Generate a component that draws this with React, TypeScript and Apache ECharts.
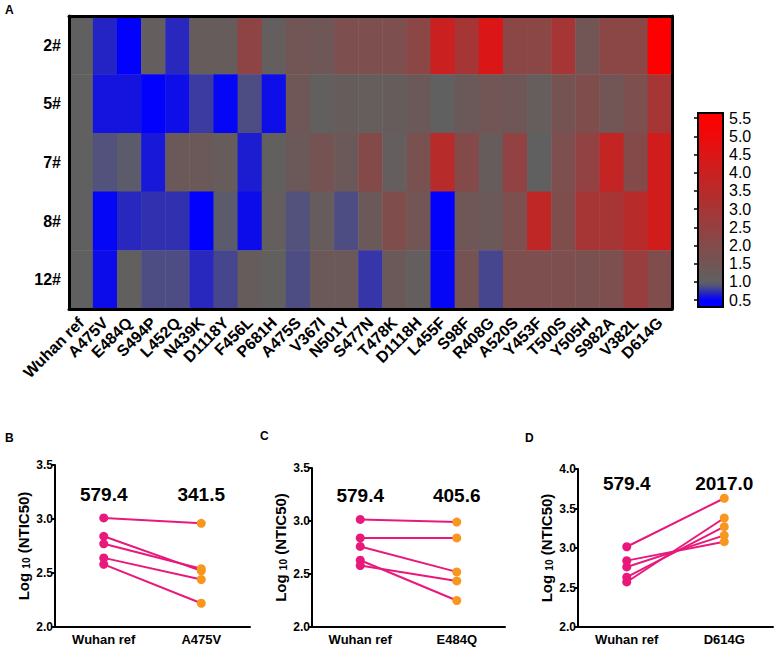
import React, { useEffect, useRef } from 'react';
import * as echarts from 'echarts';

// ---------- Heatmap data (fold change vs Wuhan ref) ----------
const mutations = ['Wuhan ref', 'A475V', 'E484Q', 'S494P', 'L452Q', 'N439K', 'D1118Y', 'F456L', 'P681H', 'A475S', 'V367I', 'N501Y', 'S477N', 'T478K', 'D1118H', 'L455F', 'S98F', 'R408G', 'A520S', 'Y453F', 'T500S', 'Y505H', 'S982A', 'V382L', 'D614G'];
const donors = ['2#', '5#', '7#', '8#', '12#'];
const donor2 = [1.0, 0.68, 0.5, 1.1, 0.7, 1.2, 1.2, 2.3, 1.1, 1.5, 1.4, 1.8, 1.8, 1.8, 2.2, 4.0, 3.0, 4.5, 2.2, 2.2, 3.0, 1.5, 2.2, 2.2, 5.5];
const donor5 = [1.0, 0.6, 0.6, 0.5, 0.57, 0.78, 0.53, 0.86, 0.57, 1.4, 1.05, 1.2, 1.15, 1.2, 1.3, 1.0, 1.3, 1.5, 1.4, 1.15, 1.6, 1.9, 1.5, 1.8, 3.0];
const donor7 = [1.0, 0.88, 0.95, 0.62, 1.3, 1.3, 1.2, 0.64, 1.05, 1.3, 1.6, 1.3, 2.0, 1.1, 1.7, 3.5, 2.0, 1.2, 2.4, 1.0, 1.8, 2.4, 3.8, 2.0, 4.2];
const donor8 = [1.0, 0.53, 0.7, 0.74, 0.74, 0.5, 0.95, 0.56, 1.1, 0.88, 1.2, 0.86, 1.3, 1.9, 1.5, 0.5, 1.4, 1.3, 1.8, 3.7, 1.9, 3.0, 3.0, 3.5, 4.2];
const donor12 = [1.0, 0.56, 1.05, 0.86, 0.86, 0.7, 0.83, 1.2, 1.05, 0.86, 1.3, 1.3, 0.76, 1.3, 1.1, 0.53, 1.6, 0.83, 1.8, 1.8, 1.8, 1.7, 1.8, 2.6, 1.9];
const heatRows = [donor2, donor5, donor7, donor8, donor12];
const colorbarTicks = [0.5, 1.0, 1.5, 2.0, 2.5, 3.0, 3.5, 4.0, 4.5, 5.0, 5.5];

// ---------- Paired panels (log10 NTIC50) ----------
const panelCats = [
  ['Wuhan ref', 'A475V'],
  ['Wuhan ref', 'E484Q'],
  ['Wuhan ref', 'D614G'],
];
const wuhanB = [3.01, 2.84, 2.77, 2.64, 2.58];
const mutB = [2.96, 2.52, 2.54, 2.44, 2.22];
const wuhanC = [3.015, 2.84, 2.76, 2.63, 2.58];
const mutC = [2.99, 2.84, 2.52, 2.25, 2.435];
const wuhanD = [3.016, 2.84, 2.76, 2.63, 2.57];
const mutD = [3.63, 3.08, 3.16, 3.27, 3.38];
const gmtB = ['579.4', '341.5'];
const gmtC = ['579.4', '405.6'];
const gmtD = ['579.4', '2017.0'];

const FONT = '"Liberation Sans", Arial, Helvetica, sans-serif';
const PINK = '#e8197b';
const ORANGE = '#f9961e';

const CB_MIN = 0.31;
const CB_MAX = 5.64;
const colorStops: [number, number[]][] = [
  [CB_MIN, [0, 0, 255]],
  [0.5, [0, 0, 255]],
  [0.7, [40, 40, 190]],
  [0.9, [86, 86, 118]],
  [1.0, [96, 96, 96]],
  [5.5, [255, 0, 0]],
  [CB_MAX, [255, 0, 0]],
];
function colorAt(v: number): string {
  for (let i = 0; i < colorStops.length - 1; i++) {
    const [a, ca] = colorStops[i];
    const [b, cb] = colorStops[i + 1];
    if (v <= b || i === colorStops.length - 2) {
      const t = Math.max(0, Math.min(1, (v - a) / (b - a)));
      const c = ca.map((x, k) => Math.round(x + (cb[k] - x) * t));
      return `rgb(${c[0]},${c[1]},${c[2]})`;
    }
  }
  return '#000';
}
const N_COL = 213;
const mapColors: string[] = [];
for (let i = 0; i <= N_COL; i++) mapColors.push(colorAt(CB_MIN + ((CB_MAX - CB_MIN) * i) / N_COL));

export default function App() {
  const ref = useRef<HTMLDivElement>(null);
  useEffect(() => {
    if (!ref.current) return;
    const chart = echarts.init(ref.current, undefined, { renderer: 'svg' });

    const heatData: number[][] = [];
    heatRows.forEach((row, r) => row.forEach((v, c) => heatData.push([c, r, v])));

    const cb = { left: 698, top: 113, width: 25, height: 194 };
    const gradStops = [];
    for (let i = 0; i <= 60; i++) {
      const off = i / 60;
      gradStops.push({ offset: off, color: colorAt(CB_MAX - (CB_MAX - CB_MIN) * off) });
    }

    const panelGrids = [
      { left: 55, top: 465, width: 195, height: 162 },
      { left: 312, top: 468, width: 193, height: 159 },
      { left: 578, top: 469, width: 195, height: 158 },
    ];
    const panelY = [
      { min: 2, max: 3.5 },
      { min: 2, max: 3.5 },
      { min: 2, max: 4 },
    ];
    const panelData = [
      [wuhanB, mutB, gmtB, 3.23],
      [wuhanC, mutC, gmtC, 3.24],
      [wuhanD, mutD, gmtD, 3.82],
    ] as [number[], number[], string[], number][];

    const panelX = panelCats.map((cats, p) => ({
      type: 'category',
      gridIndex: 2 + p,
      data: cats,
      boundaryGap: true,
      axisLine: { lineStyle: { color: '#000', width: 2 } },
      axisTick: { alignWithLabel: true, length: 4, lineStyle: { color: '#000', width: 2 } },
      axisLabel: { color: '#000', fontFamily: FONT, fontWeight: 'bold', fontSize: 13, margin: 6, interval: 0 },
      splitLine: { show: false },
    }));
    const panelYAxes = panelY.map((y, p) => ({
      type: 'value',
      gridIndex: 2 + p,
      min: y.min,
      max: y.max,
      interval: 0.5,
      name: '{a|Log }{s|10}{a| (NTIC50)}',
      nameLocation: 'middle',
      nameGap: 24,
      nameRotate: 90,
      nameTextStyle: {
        rich: {
          a: { fontFamily: FONT, fontWeight: 'bold', fontSize: 15, color: '#000' },
          s: { fontFamily: FONT, fontWeight: 'bold', fontSize: 10, color: '#000', padding: [5, 0, 0, 0] },
        },
      },
      axisLine: { show: true, lineStyle: { color: '#000', width: 2 } },
      axisTick: { show: true, length: 4, lineStyle: { color: '#000', width: 2 } },
      axisLabel: { color: '#000', fontFamily: FONT, fontWeight: 'bold', fontSize: 12, margin: 2, formatter: (v: number) => v.toFixed(1) },
      splitLine: { show: false },
    }));

    const panelSeries: any[] = [];
    panelData.forEach(([w, m, gmt, yLab], p) => {
      w.forEach((wv, d) => {
        panelSeries.push({
          type: 'line',
          xAxisIndex: 3 + p,
          yAxisIndex: 3 + p,
          symbol: 'circle',
          symbolSize: 9,
          lineStyle: { color: PINK, width: 2 },
          data: [
            { value: [0, wv], itemStyle: { color: PINK } },
            { value: [1, m[d]], itemStyle: { color: ORANGE } },
          ],
          emphasis: { disabled: true },
          z: 3,
        });
      });
      panelSeries.push({
        type: 'scatter',
        xAxisIndex: 3 + p,
        yAxisIndex: 3 + p,
        symbolSize: 1,
        itemStyle: { color: 'rgba(255,255,255,0)' },
        data: [[0, yLab], [1, yLab]],
        emphasis: { disabled: true },
        label: {
          show: true,
          position: 'inside',
          formatter: (pp: any) => gmt[pp.dataIndex],
          fontFamily: FONT,
          fontWeight: 'bold',
          fontSize: 19,
          color: '#000',
          opacity: 1,
        },
      });
    });

    const letter = (t: string, x: number, y: number) => ({
      type: 'text',
      left: x,
      top: y,
      style: { text: t, fontFamily: FONT, fontWeight: 'bold', fontSize: 12, fill: '#000' },
    });

    chart.setOption({
      animation: false,
      backgroundColor: '#fff',
      grid: [
        { left: 69, top: 16, width: 603, height: 293 },
        { left: cb.left, top: cb.top, width: cb.width, height: cb.height },
        ...panelGrids,
      ],
      xAxis: [
        {
          type: 'category',
          gridIndex: 0,
          data: mutations,
          axisLine: { lineStyle: { color: '#000', width: 3 } },
          axisTick: { alignWithLabel: true, length: 7, lineStyle: { color: '#000', width: 2 } },
          axisLabel: { rotate: 45, interval: 0, color: '#000', fontFamily: FONT, fontWeight: 'bold', fontSize: 16, margin: 11 },
          splitLine: { show: false },
          z: 10,
        },
        {
          type: 'category',
          gridIndex: 0,
          position: 'top',
          data: mutations,
          axisLine: { lineStyle: { color: '#000', width: 3 } },
          axisTick: { show: false },
          axisLabel: { show: false },
          z: 10,
        },
        { type: 'value', gridIndex: 1, show: false, min: 0, max: 1 },
        ...panelX,
      ],
      yAxis: [
        {
          type: 'category',
          gridIndex: 0,
          data: donors,
          inverse: true,
          axisLine: { lineStyle: { color: '#000', width: 3 } },
          axisTick: { alignWithLabel: true, length: 6, lineStyle: { color: '#000', width: 2 } },
          axisLabel: { color: '#000', fontFamily: FONT, fontWeight: 'bold', fontSize: 16, margin: 8 },
          z: 10,
        },
        {
          type: 'category',
          gridIndex: 0,
          position: 'right',
          data: donors,
          inverse: true,
          axisLine: { lineStyle: { color: '#000', width: 3 } },
          axisTick: { show: false },
          axisLabel: { show: false },
          z: 10,
        },
        {
          type: 'value',
          gridIndex: 1,
          position: 'right',
          min: CB_MIN,
          max: CB_MAX,
          axisLine: { show: false },
          axisTick: { show: true, inside: true, length: 4, customValues: colorbarTicks, lineStyle: { color: '#000', width: 1.5 } },
          axisLabel: { customValues: colorbarTicks, color: '#000', fontFamily: FONT, fontSize: 16, margin: 6, formatter: (v: number) => v.toFixed(1) },
          splitLine: { show: false },
          z: 10,
        },
        ...panelYAxes,
      ],
      visualMap: {
        type: 'continuous',
        show: false,
        seriesIndex: 0,
        min: CB_MIN,
        max: CB_MAX,
        inRange: { color: mapColors },
      },
      graphic: [
        {
          type: 'rect',
          shape: { x: cb.left, y: cb.top, width: cb.width, height: cb.height },
          style: {
            fill: new echarts.graphic.LinearGradient(0, 0, 0, 1, gradStops),
            stroke: '#000',
            lineWidth: 2,
          },
          z: 1,
        },
        letter('A', 5, 4),
        letter('B', 5, 432),
        letter('C', 260, 430),
        letter('D', 525, 432),
      ],
      series: [
        {
          type: 'heatmap',
          xAxisIndex: 0,
          yAxisIndex: 0,
          data: heatData,
          itemStyle: { borderWidth: 0 },
          emphasis: { disabled: true },
        },
        ...panelSeries,
      ],
    });
    return () => chart.dispose();
  }, []);
  return <div ref={ref} style={{ position: 'absolute', left: 0, top: 0, width: 777, height: 649 }} />;
}
